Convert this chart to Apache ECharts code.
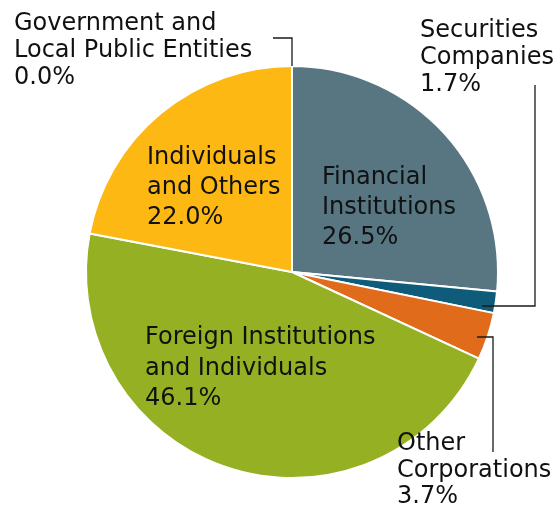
<!DOCTYPE html>
<html>
<head>
<meta charset="utf-8">
<script src="https://cdn.jsdelivr.net/npm/echarts@6/dist/echarts.min.js"></script>
<style>
  html, body { margin: 0; padding: 0; background: #ffffff; }
  #chart { width: 560px; height: 520px; }
</style>
</head>
<body>
<div id="chart"></div>
<script>
// shareholder composition, clockwise from 12 o'clock
const categories = [
  'Financial\nInstitutions',
  'Securities\nCompanies',
  'Other\nCorporations',
  'Foreign Institutions\nand Individuals',
  'Individuals\nand Others',
  'Government and\nLocal Public Entities'
];
const shares = [26.5, 1.7, 3.7, 46.1, 22.0, 0.0];
const colors = ['#577682', '#0f5c7a', '#e06b1b', '#95b023', '#fdb813', '#fdb813'];

// where each label sits (top-left), by index
const labelSpots = [
  { x: 322, y: 163, lh: 30 },
  { x: 420, y: 17, lh: 27 },
  { x: 397, y: 431, lh: 26.5 },
  { x: 145, y: 323, lh: 30.5 },
  { x: 147, y: 143, lh: 30 },
  { x: 14, y: 10, lh: 27 }
];
// leader lines for the labels set outside the pie
const leaderLines = [
  [[273, 38], [292, 38], [292, 66]],
  [[482, 306], [535, 306], [535, 85]],
  [[477, 337], [493, 337], [493, 452]]
];

const chart = echarts.init(document.getElementById('chart'));

const pieData = categories.map((name, i) => ({
  name: name,
  value: shares[i],
  itemStyle: { color: colors[i] },
  label: { lineHeight: labelSpots[i].lh }
}));

chart.setOption({
  backgroundColor: '#ffffff',
  animation: false,
  graphic: leaderLines.map(pts => ({
    type: 'polyline',
    z: 100,
    silent: true,
    shape: { points: pts },
    style: { stroke: '#1a1a1a', lineWidth: 1.3, fill: null }
  })),
  series: [
    {
      type: 'pie',
      center: [292, 272],
      radius: 206,
      startAngle: 90,
      clockwise: true,
      avoidLabelOverlap: false,
      silent: true,
      itemStyle: {
        borderColor: '#ffffff',
        borderWidth: 2
      },
      label: {
        show: true,
        position: 'outside',
        color: '#111111',
        fontFamily: 'DejaVu Sans',
        fontSize: 24,
        formatter: p => p.name + '\n' + p.value.toFixed(1) + '%'
      },
      labelLine: { show: false },
      labelLayout: params => {
        const s = labelSpots[params.dataIndex];
        return { x: s.x, y: s.y, align: 'left', verticalAlign: 'top' };
      },
      data: pieData
    }
  ]
});
</script>
</body>
</html>
